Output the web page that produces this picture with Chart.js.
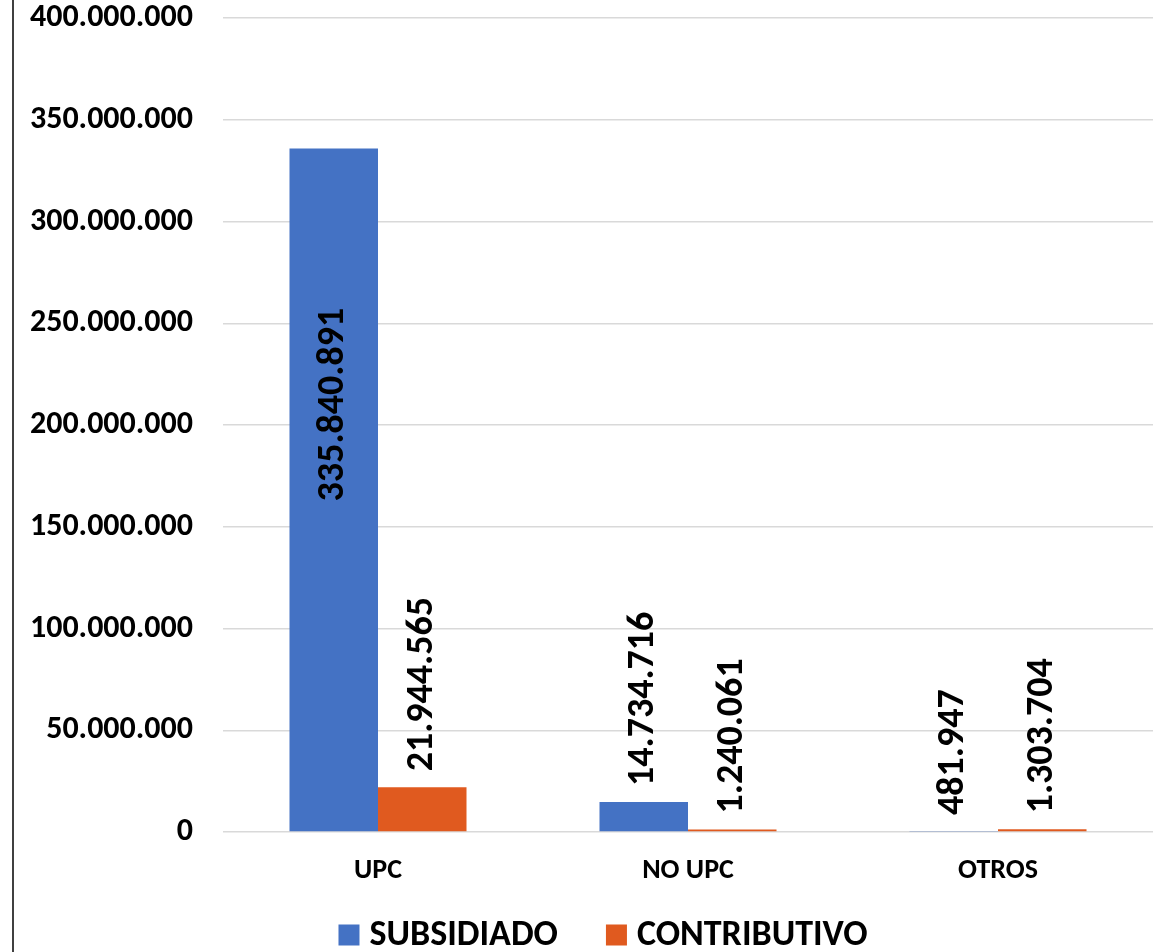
<!DOCTYPE html>
<html>
<head>
<meta charset="utf-8">
<script src="https://cdn.jsdelivr.net/npm/chart.js@4"></script>
<style>
  html, body { margin: 0; padding: 0; background: #fff; }
  #wrap { position: relative; width: 1168px; height: 952px; }
  #costChart { position: absolute; left: 0; top: 0; display: block; }
  #frame { position: absolute; left: 12px; top: 0; width: 0; height: 952px; border-left: 2px solid #404040; }
</style>
</head>
<body>
<div id="wrap">
  <canvas id="costChart" width="1168" height="952"></canvas>
  <div id="frame"></div>
</div>
<script>
const categories = ['UPC', 'NO UPC', 'OTROS'];
const subsidiado = [335840891, 14734716, 481947];
const contributivo = [21944565, 1240061, 1303704];
const yTicks = [0, 50000000, 100000000, 150000000, 200000000, 250000000, 300000000, 350000000, 400000000];

const fontFamily = 'Carlito, "Liberation Sans", Arial, sans-serif';

function dots(n) {
    return String(Math.round(n)).replace(/\B(?=(\d{3})+(?!\d))/g, '.');
}

// value labels, rotated like the excel chart
const barLabels = {
    id: 'barLabels',
    afterDatasetsDraw(chart) {
        const ctx = chart.ctx;
        const area = chart.chartArea;
        ctx.save();
        ctx.font = 'bold 38px ' + fontFamily;
        ctx.fillStyle = '#000';
        ctx.textBaseline = 'middle';
        chart.data.datasets.forEach(function(ds, i) {
            const meta = chart.getDatasetMeta(i);
            meta.data.forEach(function(bar, j) {
                const text = dots(ds.data[j]);
                const w = ctx.measureText(text).width;
                ctx.save();
                if (bar.y - 18 - w < area.top) {
                    // does not fit above the bar, put it inside
                    const cy = bar.y + (bar.base - bar.y) * 0.375;
                    ctx.translate(bar.x, cy);
                    ctx.rotate(-Math.PI / 2);
                    ctx.textAlign = 'center';
                } else {
                    ctx.translate(bar.x, bar.y - 16);
                    ctx.rotate(-Math.PI / 2);
                    ctx.textAlign = 'left';
                }
                ctx.fillText(text, 0, 0);
                ctx.restore();
            });
        });
        ctx.restore();
    }
};

// legend drawn by hand so the box/text spacing matches
const bottomLegend = {
    id: 'bottomLegend',
    afterDraw(chart) {
        const ctx = chart.ctx;
        const box = 21, gap = 10, itemGap = 48, cy = 935, centerX = 603;
        ctx.save();
        ctx.font = 'bold 36px ' + fontFamily;
        ctx.textBaseline = 'middle';
        ctx.textAlign = 'left';
        const items = chart.data.datasets.map(ds => ({
            text: ds.label,
            color: ds.backgroundColor,
            w: box + gap + ctx.measureText(ds.label).width
        }));
        const total = items.reduce((s, it) => s + it.w, 0) + itemGap * (items.length - 1);
        let x = centerX - total / 2;
        items.forEach(function(it) {
            ctx.fillStyle = it.color;
            ctx.fillRect(x, cy - box / 2, box, box);
            ctx.fillStyle = '#000';
            ctx.fillText(it.text, x + box + gap, cy + 1);
            x += it.w + itemGap;
        });
        ctx.restore();
    }
};

const ctx = document.getElementById('costChart').getContext('2d');

const costChart = new Chart(ctx, {
    type: 'bar',
    data: {
        labels: categories,
        datasets: [{
            label: 'SUBSIDIADO',
            data: subsidiado,
            backgroundColor: '#4472C4'
        }, {
            label: 'CONTRIBUTIVO',
            data: contributivo,
            backgroundColor: '#E05A1F'
        }]
    },
    plugins: [barLabels, bottomLegend],
    options: {
        responsive: false,
        animation: false,
        layout: {
            padding: { top: 0, right: 15, left: 14, bottom: 0 }
        },
        datasets: {
            bar: {
                categoryPercentage: 0.571,
                barPercentage: 1
            }
        },
        scales: {
            x: {
                grid: { display: false, drawTicks: false, tickLength: 0 },
                border: { display: false },
                afterFit: function(scale) {
                    scale.height = 120;
                },
                ticks: {
                    color: '#000',
                    padding: 22,
                    font: { family: fontFamily, size: 28, weight: 'bold' }
                }
            },
            y: {
                min: 0,
                max: 400000000,
                afterBuildTicks: function(scale) {
                    scale.ticks = yTicks.map(v => ({ value: v }));
                },
                afterFit: function(scale) {
                    scale.width = 209;
                    scale.paddingTop = 18;
                    scale.paddingBottom = 0;
                },
                grid: { color: '#d9d9d9', lineWidth: 1.5, drawTicks: false },
                border: { display: false },
                ticks: {
                    color: '#000',
                    padding: 30,
                    font: { family: fontFamily, size: 32, weight: 'bold' },
                    callback: function(value) {
                        return dots(value);
                    }
                }
            }
        },
        plugins: {
            legend: { display: false },
            tooltip: { enabled: false }
        }
    }
});
</script>
</body>
</html>
